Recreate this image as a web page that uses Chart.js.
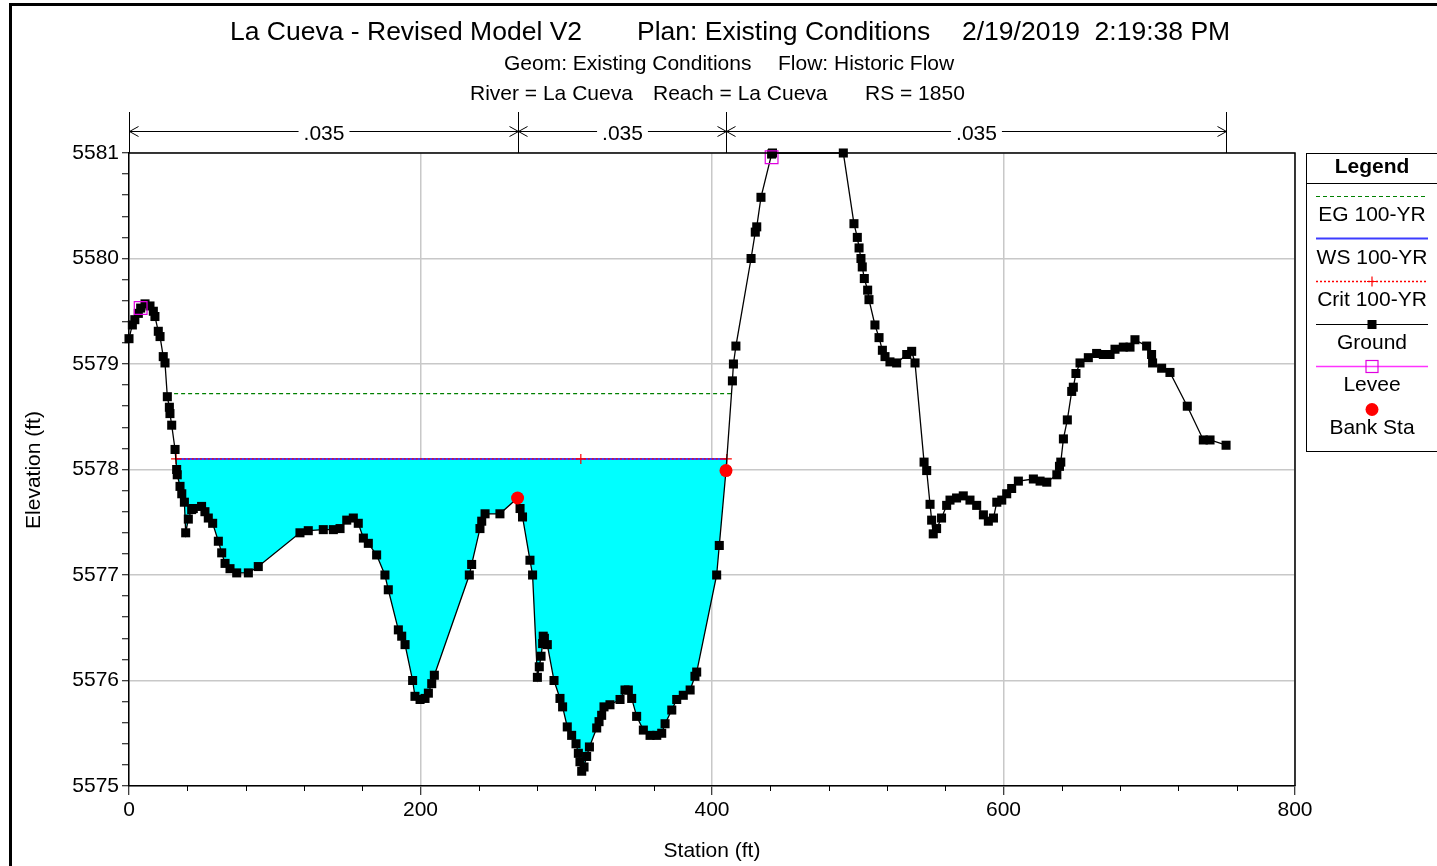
<!DOCTYPE html>
<html>
<head>
<meta charset="utf-8">
<script src="https://cdn.jsdelivr.net/npm/chart.js@4.4.1/dist/chart.umd.min.js"></script>
<style>
    body { margin: 0; background: #fff; }
    #wrap { width: 1437px; height: 866px; }
</style>
</head>
<body>
<div id="wrap"><canvas id="xsChart" width="1437" height="866"></canvas></div>
<script>
// cross section data (station ft, elevation ft)
const groundStation = [
    0, 2.3, 4, 6.4, 8, 11, 14.4, 16.7, 17.8, 20.1, 21.3, 23.5, 24.7, 26.3, 27.7, 28.1, 29.3, 31.6, 32.7, 33.1,
    35, 36.2, 38, 38.9, 40.7, 43, 44.1, 49.8, 52.1, 54.4, 57.4, 61.3, 63.6, 65.9, 69.3, 73.9, 81.9, 88.7,
    117.3, 123, 133.3, 140.2, 144.8, 149.4, 153.9, 157.3, 160.8, 164.2, 169.9, 175.6, 177.9, 184.8, 187.1,
    189.4, 194.6, 196.2, 199.7, 203.1, 205.4, 207.7, 209.5, 233.5, 235.1, 240.8, 242, 244.3, 254.5, 266.6,
    268.3, 270, 275.1, 276.9, 280.2, 281.5, 282.7, 283.8, 284.2, 285, 287, 291.6, 295.7, 297.5, 300.7,
    303.7, 306.7, 308.3, 309.4, 310.6, 312.2, 314, 315.9, 320.9, 322.5, 324.3, 325.9, 330, 336.9, 340.3,
    342.6, 344.9, 348.3, 352.9, 357.5, 362.1, 365.5, 367.8, 372.4, 375.8, 380.3, 385, 388.3, 389.5, 403.2,
    405, 409.6, 414, 414.7, 416.4, 426.8, 429.7, 430.7, 433.6, 440.9, 441.5, 490.1, 497.4, 499.7, 500.9,
    502.2, 503.1, 504.5, 506.8, 507.7, 511.8, 514.6, 516.9, 518.7, 522.1, 526.7, 533.6, 537, 539.3, 545.5,
    547.3, 549.6, 550.7, 551.8, 554.1, 557.5, 561, 563.3, 567.8, 572.4, 577, 581.6, 586.2, 589.6, 593.1,
    595.4, 598.8, 602.2, 605.6, 610.2, 620.5, 625.1, 629.7, 636.6, 638.4, 639.3, 641.1, 643.8, 646.8,
    647.9, 649.7, 652.5, 658.2, 663.9, 668.5, 673.1, 676.5, 682.2, 686.8, 690.2, 698.2, 701.6, 702.3,
    708.5, 714.2, 726.1, 737.1, 741.7, 752.7
];
const groundElev = [
    5579.24, 5579.37, 5579.42, 5579.48, 5579.53, 5579.57, 5579.55, 5579.50, 5579.45, 5579.31, 5579.26, 5579.07, 5579.01, 5578.69, 5578.59, 5578.53, 5578.42, 5578.19, 5578.00, 5577.95,
    5577.84, 5577.77, 5577.69, 5577.40, 5577.53, 5577.62, 5577.63, 5577.65, 5577.60, 5577.54, 5577.49, 5577.32, 5577.21, 5577.11, 5577.06, 5577.02, 5577.02, 5577.08,
    5577.40, 5577.42, 5577.43, 5577.43, 5577.44, 5577.52, 5577.54, 5577.49, 5577.35, 5577.30, 5577.19, 5577.00, 5576.86, 5576.48, 5576.42,
    5576.34, 5576.00, 5575.85, 5575.82, 5575.83, 5575.88, 5575.97, 5576.05, 5577.00, 5577.10, 5577.44, 5577.51, 5577.58, 5577.58, 5577.73,
    5577.63, 5577.55, 5577.14, 5577.00, 5576.03, 5576.13, 5576.23, 5576.35, 5576.42, 5576.40, 5576.34, 5576.00, 5575.83, 5575.75, 5575.56,
    5575.48, 5575.40, 5575.31, 5575.23, 5575.14, 5575.18, 5575.28, 5575.37, 5575.55, 5575.61, 5575.67, 5575.75, 5575.77, 5575.82, 5575.91,
    5575.91, 5575.83, 5575.66, 5575.53, 5575.48, 5575.48, 5575.50, 5575.59, 5575.72, 5575.82, 5575.86, 5575.91, 5576.04, 5576.08, 5577.00,
    5577.28, 5577.99, 5578.84, 5579.00, 5579.17, 5580.00, 5580.25, 5580.30, 5580.58, 5580.99, 5581.00, 5581.00, 5580.33, 5580.20, 5580.10,
    5580.00, 5579.92, 5579.81, 5579.70, 5579.61, 5579.37, 5579.25, 5579.13, 5579.07, 5579.02, 5579.01, 5579.09, 5579.12, 5579.01, 5578.07,
    5577.99, 5577.67, 5577.52, 5577.39, 5577.44, 5577.54, 5577.66, 5577.71, 5577.73, 5577.75, 5577.71, 5577.66, 5577.57, 5577.51, 5577.54,
    5577.69, 5577.71, 5577.77, 5577.82, 5577.89, 5577.91, 5577.89, 5577.88, 5577.95, 5578.03, 5578.07, 5578.29, 5578.47, 5578.74,
    5578.78, 5578.91, 5579.01, 5579.06, 5579.10, 5579.09, 5579.09, 5579.14, 5579.16, 5579.16, 5579.23, 5579.17, 5579.09, 5579.01,
    5578.96, 5578.92, 5578.60, 5578.28, 5578.28, 5578.23
];
const leveeStation = [8, 440.9];
const leveeElev = [5579.53, 5580.96];
const bankStation = [266.6, 409.6];
const bankElev = [5577.73, 5577.99];
const critStation = [32.3, 310, 410.2];
const wsElev = 5578.10;
const egElev = 5578.72;
const nValues = [".035", ".035", ".035"];
const xTicks = [0, 200, 400, 600, 800];
const yTicks = [5575, 5576, 5577, 5578, 5579, 5580, 5581];
const legendLabels = ["EG 100-YR", "WS 100-YR", "Crit 100-YR", "Ground", "Levee", "Bank Sta"];

const FONT = '"Liberation Sans", Arial, sans-serif';
const WS_COLOR = "#3c3cff";
const EG_COLOR = "#008000";
const CRIT_COLOR = "#ff0000";
const LEVEE_COLOR = "#ff33ff";

function interpSta(a, b, level) {
    const s0 = groundStation[a], s1 = groundStation[b];
    const e0 = groundElev[a], e1 = groundElev[b];
    return s0 + (s1 - s0) * (level - e0) / (e1 - e0);
}

// left/right crossings of a level with the ground
function crossings(level) {
    let i = 1;
    while (groundElev[i] >= level) i++;
    const left = interpSta(i - 1, i, level);
    let j = i;
    while (groundElev[j] < level) j++;
    const right = interpSta(j - 1, j, level);
    return { left, right, i, j };
}

const ws = crossings(wsElev);
const eg = crossings(egElev);

const groundPts = groundStation.map((s, k) => ({ x: s, y: groundElev[k] }));
const waterPts = [{ x: ws.left, y: wsElev }];
for (let k = ws.i; k < ws.j; k++) waterPts.push({ x: groundStation[k], y: groundElev[k] });
waterPts.push({ x: ws.right, y: wsElev });

const isWhole = (v, step) => Math.abs(v / step - Math.round(v / step)) < 1e-6;

function drawArrow(ctx, x, y, dir) {
    ctx.beginPath();
    ctx.moveTo(x + dir * 9, y - 5);
    ctx.lineTo(x, y);
    ctx.lineTo(x + dir * 9, y + 5);
    ctx.stroke();
}

const decorPlugin = {
    id: "decor",
    afterDraw(chart) {
        const ctx = chart.ctx;
        const area = chart.chartArea;
        const xs = chart.scales.x;
        ctx.save();

        // outer frame
        ctx.fillStyle = "#000";
        ctx.fillRect(9, 3, 1428, 3);
        ctx.fillRect(9, 3, 3, 863);

        // top and right plot border
        ctx.strokeStyle = "#000";
        ctx.lineWidth = 1.5;
        ctx.beginPath();
        ctx.moveTo(area.left, area.top);
        ctx.lineTo(area.right, area.top);
        ctx.lineTo(area.right, area.bottom);
        ctx.stroke();

        // minor x ticks
        ctx.lineWidth = 1;
        for (let v = 0; v <= 800; v += 40) {
            if (isWhole(v, 200)) continue;
            const px = Math.round(xs.getPixelForValue(v)) + 0.5;
            ctx.beginPath();
            ctx.moveTo(px, area.bottom);
            ctx.lineTo(px, area.bottom + 5);
            ctx.stroke();
        }

        // titles
        ctx.fillStyle = "#000";
        ctx.textBaseline = "middle";
        ctx.textAlign = "left";
        ctx.font = "26.5px " + FONT;
        ctx.fillText("La Cueva - Revised Model V2", 230, 32.5);
        ctx.fillText("Plan: Existing Conditions", 637, 32.5);
        ctx.fillText("2/19/2019  2:19:38 PM", 962, 32.5);
        ctx.font = "21px " + FONT;
        ctx.fillText("Geom: Existing Conditions", 504, 64);
        ctx.fillText("Flow: Historic Flow", 778, 64);
        ctx.fillText("River = La Cueva", 470, 94);
        ctx.fillText("Reach = La Cueva", 653, 94);
        ctx.fillText("RS = 1850", 865, 94);

        // axis titles
        ctx.textAlign = "center";
        ctx.fillText("Station (ft)", 712, 851);
        ctx.save();
        ctx.translate(34, 470);
        ctx.rotate(-Math.PI / 2);
        ctx.fillText("Elevation (ft)", 0, 0);
        ctx.restore();

        // Manning's n bracket
        const nBreaks = [groundStation[0], bankStation[0], bankStation[1], groundStation[groundStation.length - 1]];
        const by = 131.5;
        ctx.lineWidth = 1;
        nBreaks.forEach((s) => {
            const px = Math.round(xs.getPixelForValue(s)) + 0.5;
            ctx.beginPath();
            ctx.moveTo(px, 112);
            ctx.lineTo(px, area.top);
            ctx.stroke();
        });
        for (let k = 0; k < 3; k++) {
            const x0 = Math.round(xs.getPixelForValue(nBreaks[k])) + 0.5;
            const x1 = Math.round(xs.getPixelForValue(nBreaks[k + 1])) + 0.5;
            const cx = (x0 + x1) / 2;
            const tw = ctx.measureText(nValues[k]).width;
            ctx.beginPath();
            ctx.moveTo(x0, by);
            ctx.lineTo(cx - tw / 2 - 5, by);
            ctx.moveTo(cx + tw / 2 + 5, by);
            ctx.lineTo(x1, by);
            ctx.stroke();
            drawArrow(ctx, x0, by, 1);
            drawArrow(ctx, x1, by, -1);
            ctx.fillText(nValues[k], cx, 134);
        }

        // legend box
        const lx = 1306, ly = 153, lw = 140, lh = 298;
        const lc = 1372, l0 = 1316, l1 = 1428;
        ctx.strokeStyle = "#000";
        ctx.lineWidth = 1;
        ctx.strokeRect(lx + 0.5, ly + 0.5, lw, lh);
        ctx.beginPath();
        ctx.moveTo(lx, 183.5);
        ctx.lineTo(lx + lw, 183.5);
        ctx.stroke();
        ctx.font = "bold 21px " + FONT;
        ctx.fillText("Legend", lc, 167);
        ctx.font = "21px " + FONT;

        const lineYs = [196, 238, 281, 324, 366, 409];
        const textYs = [215, 258, 300, 343, 385, 428];
        legendLabels.forEach((lab, k) => {
            const yy = lineYs[k] + 0.5;
            ctx.save();
            if (k === 0) {
                ctx.strokeStyle = EG_COLOR; ctx.setLineDash([4, 3]); ctx.lineWidth = 1.2;
            } else if (k === 1) {
                ctx.strokeStyle = WS_COLOR; ctx.lineWidth = 2;
            } else if (k === 2) {
                ctx.strokeStyle = CRIT_COLOR; ctx.setLineDash([2, 2]); ctx.lineWidth = 1.4;
            } else if (k === 3) {
                ctx.strokeStyle = "#000"; ctx.lineWidth = 1.2;
            } else if (k === 4) {
                ctx.strokeStyle = LEVEE_COLOR; ctx.lineWidth = 1.5;
            }
            if (k < 5) {
                ctx.beginPath();
                ctx.moveTo(l0, yy);
                ctx.lineTo(l1, yy);
                ctx.stroke();
            }
            ctx.setLineDash([]);
            if (k === 2) {
                ctx.lineWidth = 1.2;
                ctx.beginPath();
                ctx.moveTo(lc - 5, yy); ctx.lineTo(lc + 5, yy);
                ctx.moveTo(lc, yy - 5); ctx.lineTo(lc, yy + 5);
                ctx.stroke();
            } else if (k === 3) {
                ctx.fillStyle = "#000";
                ctx.fillRect(lc - 4.5, yy - 4.5, 9, 9);
            } else if (k === 4) {
                ctx.strokeStyle = "#e000e0";
                ctx.lineWidth = 1.2;
                ctx.strokeRect(lc - 6, yy - 6, 12, 12);
            } else if (k === 5) {
                ctx.fillStyle = "#ff0000";
                ctx.beginPath();
                ctx.arc(lc, yy, 6.5, 0, Math.PI * 2);
                ctx.fill();
            }
            ctx.restore();
            ctx.fillStyle = "#000";
            ctx.fillText(lab, lc, textYs[k]);
        });

        ctx.restore();
    }
};

const ctx = document.getElementById("xsChart").getContext("2d");
const xsChart = new Chart(ctx, {
    type: "line",
    data: {
        datasets: [
            {
                label: "Bank Sta",
                data: bankStation.map((s, k) => ({ x: s, y: bankElev[k] })),
                showLine: false,
                pointStyle: "circle",
                pointRadius: 6.5,
                pointBackgroundColor: "#ff0000",
                pointBorderWidth: 0,
                clip: false,
            },
            {
                label: "Levee",
                data: leveeStation.map((s, k) => ({ x: s, y: leveeElev[k] })),
                showLine: false,
                pointStyle: "rect",
                pointRadius: 9,
                pointBackgroundColor: "rgba(0,0,0,0)",
                pointBorderColor: "#e000e0",
                pointBorderWidth: 1.2,
                clip: false,
            },
            {
                label: "Ground",
                data: groundPts,
                borderColor: "#000",
                borderWidth: 1.3,
                pointStyle: "rect",
                pointRadius: 6.4,
                pointBackgroundColor: "#000",
                pointBorderWidth: 0,
                tension: 0,
                clip: false,
            },
            {
                label: "Crit 100-YR",
                data: [{ x: ws.left, y: wsElev }].concat(critStation.map((s) => ({ x: s, y: wsElev }))).concat([{ x: ws.right, y: wsElev }]).sort((a, b) => a.x - b.x),
                borderColor: CRIT_COLOR,
                borderWidth: 1.2,
                borderDash: [2, 2],
                pointStyle: "cross",
                pointRadius: (c) => (c.dataIndex === 0 || c.dataIndex === 4) ? 0 : 5,
                pointBorderColor: CRIT_COLOR,
                pointBorderWidth: 1.2,
            },
            {
                label: "WS 100-YR",
                data: [{ x: ws.left, y: wsElev }, { x: ws.right, y: wsElev }],
                borderColor: WS_COLOR,
                borderWidth: 2,
                pointRadius: 0,
            },
            {
                label: "EG 100-YR",
                data: [{ x: eg.left, y: egElev }, { x: eg.right, y: egElev }],
                borderColor: EG_COLOR,
                borderWidth: 1.2,
                borderDash: [4, 3],
                pointRadius: 0,
            },
            {
                label: "water",
                data: waterPts,
                borderWidth: 0,
                borderColor: "rgba(0,0,0,0)",
                backgroundColor: "#00ffff",
                fill: { value: wsElev },
                pointRadius: 0,
                tension: 0,
            },
        ],
    },
    options: {
        responsive: false,
        animation: false,
        events: [],
        layout: { padding: { top: 153, right: 142, left: 0, bottom: 0 } },
        plugins: {
            legend: { display: false },
            tooltip: { enabled: false },
            title: { display: false },
        },
        scales: {
            x: {
                type: "linear",
                min: 0,
                max: 800,
                afterFit: (s) => { s.height = 80; },
                ticks: {
                    stepSize: 40,
                    autoSkip: false,
                    maxRotation: 0,
                    padding: 3,
                    color: "#000",
                    font: { family: FONT, size: 21 },
                    callback: (v) => (xTicks.some((t) => Math.abs(t - v) < 1e-6) ? v : ""),
                },
                grid: {
                    color: (c) => (c.tick && isWhole(c.tick.value, 200) ? "#c8c8c8" : "rgba(0,0,0,0)"),
                    lineWidth: 1.5,
                    tickLength: 9,
                    tickColor: (c) => (c.tick && isWhole(c.tick.value, 200) ? "#000" : "rgba(0,0,0,0)"),
                    tickWidth: 1,
                },
                border: { color: "#000", width: 1.5 },
            },
            y: {
                min: 5575,
                max: 5581,
                afterFit: (s) => { s.width = 129; },
                ticks: {
                    stepSize: 0.2,
                    autoSkip: false,
                    padding: 3,
                    color: "#000",
                    font: { family: FONT, size: 21 },
                    callback: (v) => {
                        const hit = yTicks.find((t) => Math.abs(t - v) < 1e-6);
                        return hit === undefined ? "" : String(hit);
                    },
                },
                grid: {
                    color: (c) => (c.tick && isWhole(c.tick.value, 1) ? "#c8c8c8" : "rgba(0,0,0,0)"),
                    lineWidth: 1.5,
                    tickLength: 7,
                    tickColor: "#000",
                    tickWidth: 1,
                },
                border: { color: "#000", width: 1.5 },
            },
        },
    },
    plugins: [decorPlugin],
});
</script>
</body>
</html>
